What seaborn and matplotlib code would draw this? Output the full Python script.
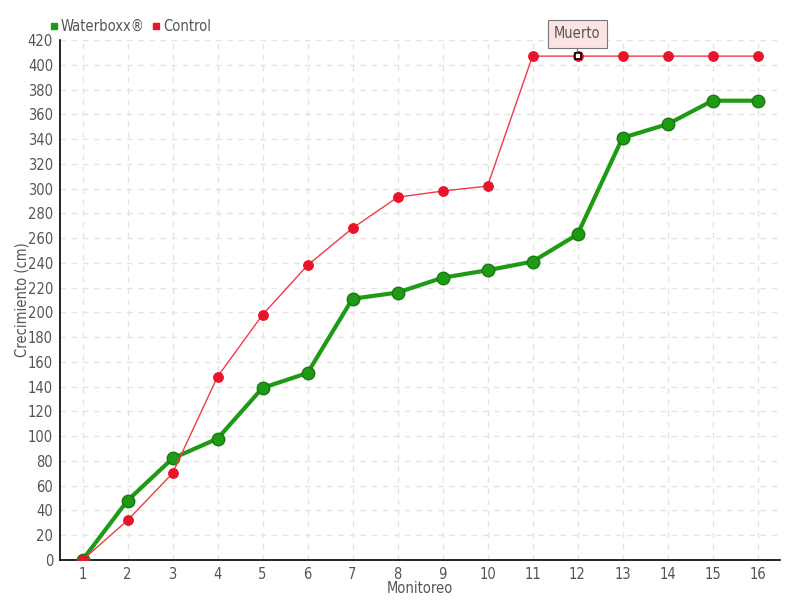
import numpy as np
import pandas as pd
import seaborn as sns
import matplotlib.pyplot as plt
from matplotlib.lines import Line2D

# datos
monitoreo = list(range(1, 17))
waterboxx = [0, 48, 82, 98, 139, 151, 211, 216, 228, 234, 241, 263, 341, 352, 371, 371]
control = [0, 32, 70, 148, 198, 238, 268, 293, 298, 302, 407, 407, 407, 407, 407, 407]
muerto_idx = 11  # monitoreo 12

df = pd.DataFrame({'Monitoreo': monitoreo * 2,
                   'Crecimiento': waterboxx + control,
                   'serie': ['Waterboxx®'] * 16 + ['Control'] * 16})

sns.set_style('white')
plt.rcParams['font.family'] = ['DejaVu Sans']
plt.rcParams['font.stretch'] = 'condensed'
txt = '#555555'

fig = plt.figure(figsize=(8, 6), dpi=100)
ax = fig.add_axes([0.075, 0.0667, 0.9, 0.8666])

ax.grid(True, color='#e4e4e4', linestyle=(0, (4, 4)), linewidth=1)
ax.set_axisbelow(True)

sns.lineplot(data=df[df.serie == 'Waterboxx®'], x='Monitoreo', y='Crecimiento',
             color='#1f9a14', linewidth=3, marker='o', markersize=9,
             markeredgecolor='#177a10', markeredgewidth=1, ax=ax, zorder=3)
sns.lineplot(data=df[df.serie == 'Control'], x='Monitoreo', y='Crecimiento',
             color='#f03a4a', linewidth=1, marker='o', markersize=7,
             markerfacecolor='#e8142a', markeredgecolor='#e8142a', ax=ax, zorder=4)

# punto "Muerto"
ax.plot(monitoreo[muerto_idx], control[muerto_idx], marker='s', markersize=4.5,
        markerfacecolor='white', markeredgecolor='black', markeredgewidth=1.2, zorder=6)
ax.annotate('Muerto', xy=(monitoreo[muerto_idx], control[muerto_idx]),
            xytext=(0, 16), textcoords='offset points', ha='center', va='center',
            fontsize=10.5, color=txt,
            bbox=dict(boxstyle='square,pad=0.45', fc='#fde4e4', ec='#777777', lw=0.8),
            arrowprops=dict(arrowstyle='-', color='#777777', lw=0.8, shrinkA=0, shrinkB=3),
            zorder=7)

ax.set_xlim(0.5, 16.5)
ax.set_ylim(0, 420)
ax.set_xticks(monitoreo)
ax.set_yticks(np.arange(0, 421, 20))
ax.tick_params(axis='both', colors='black', labelcolor=txt, labelsize=10.5,
               length=4, width=1, direction='out', pad=1)
for s in ['top', 'right']:
    ax.spines[s].set_visible(False)
for s in ['left', 'bottom']:
    ax.spines[s].set_color('black')
    ax.spines[s].set_linewidth(1.2)

ax.set_xlabel('Monitoreo', color=txt, fontsize=10.5, labelpad=-1)
ax.set_ylabel('Crecimiento (cm)', color=txt, fontsize=10.5, labelpad=-1.5)

# leyenda arriba a la izquierda
handles = [Line2D([], [], linestyle='none', marker='s', markersize=5, color='#1f9a14'),
           Line2D([], [], linestyle='none', marker='s', markersize=5, color='#e8142a')]
fig.legend(handles, ['Waterboxx®', 'Control'], loc='upper left',
           bbox_to_anchor=(0.045, 0.99), ncol=2, frameon=False, fontsize=10.5,
           handlelength=0.6, handletextpad=0.2, columnspacing=0.5, labelcolor=txt)

fig.savefig('out.png', dpi=100)
